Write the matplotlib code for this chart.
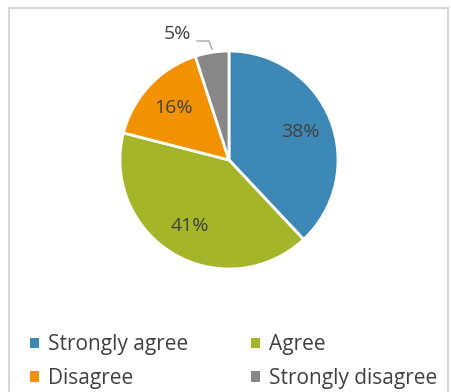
import matplotlib.pyplot as plt
import numpy as np
from matplotlib.patches import Patch, Rectangle

categories = ["Strongly agree", "Agree", "Disagree", "Strongly disagree"]
values = [38, 41, 16, 5]
pct_labels = ["38%", "41%", "16%", "5%"]
colors = ["#3E88B5", "#A4B52A", "#F39200", "#878787"]

plt.rcParams['font.family'] = ['Open Sans', 'DejaVu Sans']

W, H = 451, 392
fig = plt.figure(figsize=(W / 100, H / 100), dpi=100)
ax = fig.add_axes([0, 0, 1, 1])
ax.patch.set_visible(False)

cx, cy, r = 229, H - 160, 109
wedges, texts = ax.pie(values, colors=colors, startangle=90, counterclock=False,
                       center=(cx, cy), radius=r, frame=True,
                       wedgeprops=dict(edgecolor='white', linewidth=2))
ax.set_xlim(0, W)
ax.set_ylim(0, H)
ax.set_aspect('equal')
ax.axis('off')

# chart frame as thin filled bars (data units = pixels)
for x0, y0, w, h in [(7.5, 0, 2, H - 7), (446.5, 0, 2, H - 7), (7.5, H - 9, 441, 2)]:
    ax.add_patch(Rectangle((x0, y0), w, h, facecolor='#D6D6D6', edgecolor='none',
                           clip_on=False, zorder=5))

start = 90
for v, lab in zip(values[:3], pct_labels[:3]):
    mid = np.deg2rad(start - v / 2 * 3.6)
    ax.text(cx + 0.7 * r * np.cos(mid), cy + 0.7 * r * np.sin(mid), lab,
            ha='center', va='center', fontsize=14, color='#404040')
    start -= v * 3.6

# small slice label with leader line
ax.plot([197, 209, 212], [H - 41, H - 41, H - 49], color='#A6A6A6', lw=1)
ax.text(177, H - 34, pct_labels[3], ha='center', va='center', fontsize=14, color='#404040')

order = [0, 2, 1, 3]
handles = [Patch(facecolor=colors[i], edgecolor='none') for i in order]
fig.legend(handles, [categories[i] for i in order], ncol=2, loc='lower left',
           bbox_to_anchor=(0.025, -0.04), frameon=False, fontsize=15,
           handlelength=0.42, handleheight=0.42, handletextpad=0.45,
           columnspacing=3.0, labelspacing=0.6, labelcolor='#404040')

fig.savefig('out.png', dpi=100)
